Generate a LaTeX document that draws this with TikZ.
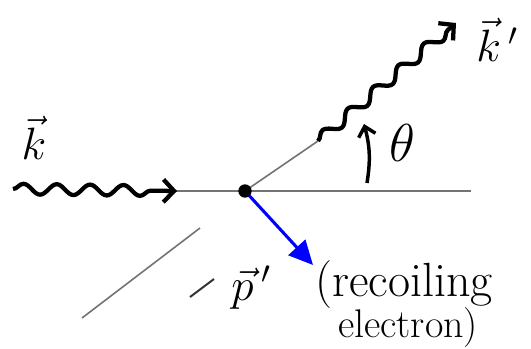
\RequirePackage{fix-cm}
\documentclass[tikz,border=0pt]{standalone}
\usepackage{amsmath}
\usetikzlibrary{arrows.meta, decorations.pathmorphing, positioning}

\begin{document}
\begin{tikzpicture}[
  x=0.75pt, y=-0.75pt,
  axis/.style={line width=1.2pt, black!55},
  photon/.style={line width=3.2pt, decorate,
    decoration={snake, amplitude=4pt, segment length=25pt, post length=8pt},
    -{Straight Barb[length=8pt,width=17pt]}},
  recoil/.style={line width=2.3pt, blue, -{Triangle[length=18pt,width=17pt]}},
  tharr/.style={line width=2.6pt, -{Straight Barb[length=7pt,width=13pt]}},
  lbl/.style={inner sep=0pt, font=\fontsize{34}{40}\selectfont}
]
  \useasboundingbox (0,0) rectangle (531,349);

  \coordinate (V) at (245,191);
  \coordinate (inS) at (13,189);
  \coordinate (inE) at (177,191);
  \coordinate (axL) at (160,191);
  \coordinate (axR) at (471,191);
  \coordinate (outS) at (318,141);
  \coordinate (outE) at (456,23);
  \coordinate (backS) at (82,318);
  \coordinate (backE) at (200,228);
  \coordinate (pTip) at (313,265);
  \coordinate (th0) at (367,183);
  \coordinate (th1) at (364,124);

  % beam axis and scattered direction
  \draw[axis] (axL) -- (axR);
  \draw[axis] (V) -- (outS);
  \draw[axis] (backS) -- (backE);
  \draw[line width=1.5pt, black!80] (190,297) -- (214,279);

  % photons
  \draw[photon] (inS) -- (inE);
  \draw[photon] (outS) -- (outE);

  % recoiling electron
  \draw[recoil] (V) -- (pTip);
  \fill (V) circle[radius=5pt];

  % angle
  \draw[tharr] (th0) to[bend right=12] (th1);

  \node[lbl, anchor=base] (kin) at (34,160) {$\vec{k}$};
  \node[lbl, anchor=base west] (kout) at (476,62) {$\vec{k}\,'$};
  \node[lbl, font=\fontsize{40}{44}\selectfont] (theta) at (402,143) {$\theta$};
  \node[lbl, anchor=base west] (pel) at (231,300) {$\vec{p}\,'$};
  \node[lbl, anchor=base, font=\fontsize{36}{40}\selectfont] (rec) at (404,296) {(recoiling};
  \node[lbl, anchor=base, font=\fontsize{30}{34}\selectfont] (elec) at (408,337) {electron)};
\end{tikzpicture}
\end{document}
